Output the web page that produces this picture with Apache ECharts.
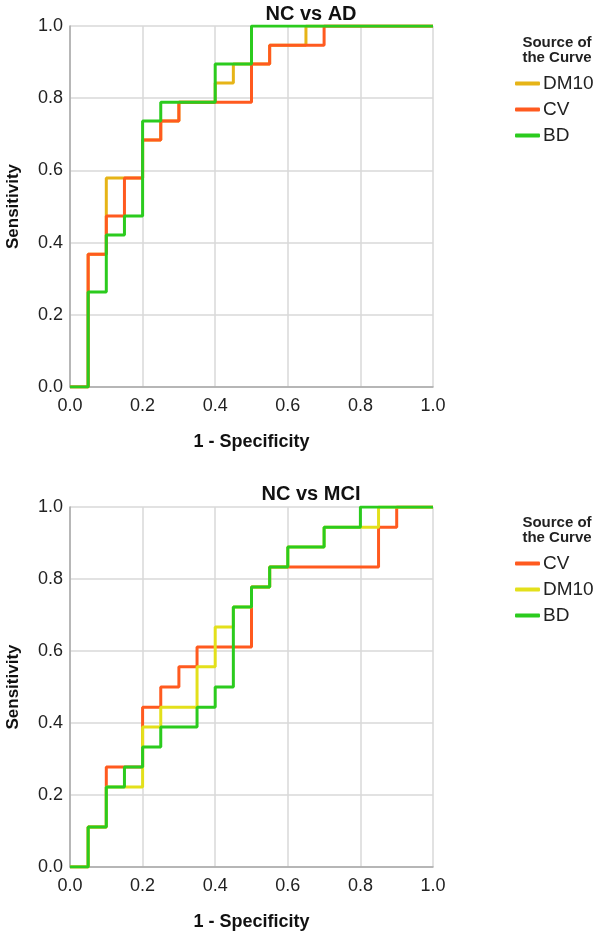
<!DOCTYPE html>
<html>
<head>
<meta charset="utf-8">
<script src="https://cdn.jsdelivr.net/npm/echarts@6/dist/echarts.min.js"></script>
<style>
html,body{margin:0;padding:0;background:#fff;}
#chart{width:600px;height:939px;}
</style>
</head>
<body>
<div id="chart"></div>
<script>
// ---- Data (ROC staircase vertices: 1 - Specificity, Sensitivity) ----
const tickLabels = ['0.0', '0.2', '0.4', '0.6', '0.8', '1.0'];

// Panel 1: NC vs AD
const adTitle = 'NC vs AD';
const adSeriesNames = ['DM10', 'CV', 'BD'];
const adDM10_x = [0, 0.05, 0.05, 0.10, 0.10, 0.20, 0.20, 0.25, 0.25, 0.30, 0.30, 0.40, 0.40, 0.45, 0.45, 0.55, 0.55, 0.65, 0.65, 1.0];
const adDM10_y = [0, 0, 0.368, 0.368, 0.579, 0.579, 0.684, 0.684, 0.737, 0.737, 0.789, 0.789, 0.842, 0.842, 0.895, 0.895, 0.947, 0.947, 1.0, 1.0];
const adCV_x = [0, 0.05, 0.05, 0.10, 0.10, 0.15, 0.15, 0.20, 0.20, 0.25, 0.25, 0.30, 0.30, 0.50, 0.50, 0.55, 0.55, 0.70, 0.70, 1.0];
const adCV_y = [0, 0, 0.368, 0.368, 0.474, 0.474, 0.579, 0.579, 0.684, 0.684, 0.737, 0.737, 0.789, 0.789, 0.895, 0.895, 0.947, 0.947, 1.0, 1.0];
const adBD_x = [0, 0.05, 0.05, 0.10, 0.10, 0.15, 0.15, 0.20, 0.20, 0.25, 0.25, 0.40, 0.40, 0.50, 0.50, 1.0];
const adBD_y = [0, 0, 0.263, 0.263, 0.421, 0.421, 0.474, 0.474, 0.737, 0.737, 0.789, 0.789, 0.895, 0.895, 1.0, 1.0];

// Panel 2: NC vs MCI
const mciTitle = 'NC vs MCI';
const mciSeriesNames = ['CV', 'DM10', 'BD'];
const mciCV_x = [0, 0.05, 0.05, 0.10, 0.10, 0.20, 0.20, 0.25, 0.25, 0.30, 0.30, 0.35, 0.35, 0.50, 0.50, 0.55, 0.55, 0.85, 0.85, 0.90, 0.90, 1.0];
const mciCV_y = [0, 0, 0.111, 0.111, 0.278, 0.278, 0.444, 0.444, 0.500, 0.500, 0.556, 0.556, 0.611, 0.611, 0.778, 0.778, 0.833, 0.833, 0.944, 0.944, 1.0, 1.0];
const mciDM10_x = [0, 0.05, 0.05, 0.10, 0.10, 0.20, 0.20, 0.25, 0.25, 0.35, 0.35, 0.40, 0.40, 0.45, 0.45, 0.50, 0.50, 0.55, 0.55, 0.60, 0.60, 0.70, 0.70, 0.85, 0.85, 1.0];
const mciDM10_y = [0, 0, 0.111, 0.111, 0.222, 0.222, 0.389, 0.389, 0.444, 0.444, 0.556, 0.556, 0.667, 0.667, 0.722, 0.722, 0.778, 0.778, 0.833, 0.833, 0.889, 0.889, 0.944, 0.944, 1.0, 1.0];
const mciBD_x = [0, 0.05, 0.05, 0.10, 0.10, 0.15, 0.15, 0.20, 0.20, 0.25, 0.25, 0.35, 0.35, 0.40, 0.40, 0.45, 0.45, 0.50, 0.50, 0.55, 0.55, 0.60, 0.60, 0.70, 0.70, 0.80, 0.80, 1.0];
const mciBD_y = [0, 0, 0.111, 0.111, 0.222, 0.222, 0.278, 0.278, 0.333, 0.333, 0.389, 0.389, 0.444, 0.444, 0.500, 0.500, 0.722, 0.722, 0.778, 0.778, 0.833, 0.833, 0.889, 0.889, 0.944, 0.944, 1.0, 1.0];

// ---- Styles ----
const FONT = 'Liberation Sans, Arial, sans-serif';
const colors = { DM10a: '#E6B417', CV: '#FF5A1F', BD: '#2BCB1E', DM10b: '#E3E01B' };

function pts(xs, ys) { return xs.map((x, i) => [x, ys[i]]); }

function xAxis(gi) {
  return {
    type: 'value', gridIndex: gi, min: 0, max: 1, interval: 0.2,
    name: '1 - Specificity', nameLocation: 'middle', nameGap: 46,
    nameTextStyle: { fontFamily: FONT, fontSize: 18, fontWeight: 'bold', color: '#111' },
    axisLine: { show: true, lineStyle: { color: '#a8a8a8', width: 1.5 } },
    axisTick: { show: false },
    axisLabel: { fontFamily: FONT, fontSize: 18, color: '#222', margin: 10,
      formatter: v => tickLabels[Math.round(v / 0.2)] },
    splitLine: { show: true, lineStyle: { color: '#d8d8d8', width: 1.5 } }
  };
}
function yAxis(gi) {
  return {
    type: 'value', gridIndex: gi, min: 0, max: 1, interval: 0.2,
    name: 'Sensitivity', nameLocation: 'middle', nameGap: 48, nameRotate: 90,
    nameTextStyle: { fontFamily: FONT, fontSize: 17, fontWeight: 'bold', color: '#111' },
    axisLine: { show: true, lineStyle: { color: '#a8a8a8', width: 1.5 } },
    axisTick: { show: false },
    axisLabel: { fontFamily: FONT, fontSize: 18, color: '#222', margin: 7,
      formatter: v => tickLabels[Math.round(v / 0.2)] },
    splitLine: { show: true, lineStyle: { color: '#d8d8d8', width: 1.5 } }
  };
}
function lineSeries(name, data, color, gi) {
  return {
    name: name, type: 'line', xAxisIndex: gi, yAxisIndex: gi, data: data,
    showSymbol: false, symbol: 'none', animation: false,
    lineStyle: { color: color, width: 3 }, itemStyle: { color: color }
  };
}

const chart = echarts.init(document.getElementById('chart'), null, { renderer: 'canvas' });
chart.setOption({
  backgroundColor: '#fff',
  animation: false,
  title: [
    { text: adTitle, left: 306, top: -1, textAlign: 'center',
      textStyle: { fontFamily: FONT, fontSize: 20, fontWeight: 'bold', color: '#111' } },
    { text: mciTitle, left: 306, top: 479, textAlign: 'center',
      textStyle: { fontFamily: FONT, fontSize: 20, fontWeight: 'bold', color: '#111' } },
    { text: 'Source of\nthe Curve', left: 552, top: 30, textAlign: 'center',
      textStyle: { fontFamily: FONT, fontSize: 15, lineHeight: 15, fontWeight: 'bold', color: '#222' } },
    { text: 'Source of\nthe Curve', left: 552, top: 510, textAlign: 'center',
      textStyle: { fontFamily: FONT, fontSize: 15, lineHeight: 15, fontWeight: 'bold', color: '#222' } }
  ],
  legend: [
    { data: adSeriesNames, orient: 'vertical', left: 510, top: 69, itemWidth: 25, itemHeight: 4,
      icon: 'roundRect', itemGap: 7,
      textStyle: { fontFamily: FONT, fontSize: 19, lineHeight: 19, color: '#222', padding: [0, 0, 0, -2] } },
    { data: mciSeriesNames.map(n => n + ' '), orient: 'vertical', left: 510, top: 549, itemWidth: 25, itemHeight: 4,
      icon: 'roundRect', itemGap: 7,
      textStyle: { fontFamily: FONT, fontSize: 19, lineHeight: 19, color: '#222', padding: [0, 0, 0, -2] } }
  ],
  grid: [
    { left: 70, top: 26, width: 363, height: 361, outerBoundsMode: 'none', containLabel: false },
    { left: 70, top: 507, width: 363, height: 360, outerBoundsMode: 'none', containLabel: false }
  ],
  xAxis: [xAxis(0), xAxis(1)],
  yAxis: [yAxis(0), yAxis(1)],
  series: [
    lineSeries('DM10', pts(adDM10_x, adDM10_y), colors.DM10a, 0),
    lineSeries('CV', pts(adCV_x, adCV_y), colors.CV, 0),
    lineSeries('BD', pts(adBD_x, adBD_y), colors.BD, 0),
    lineSeries('CV ', pts(mciCV_x, mciCV_y), colors.CV, 1),
    lineSeries('DM10 ', pts(mciDM10_x, mciDM10_y), colors.DM10b, 1),
    lineSeries('BD ', pts(mciBD_x, mciBD_y), colors.BD, 1)
  ]
});
</script>
</body>
</html>
